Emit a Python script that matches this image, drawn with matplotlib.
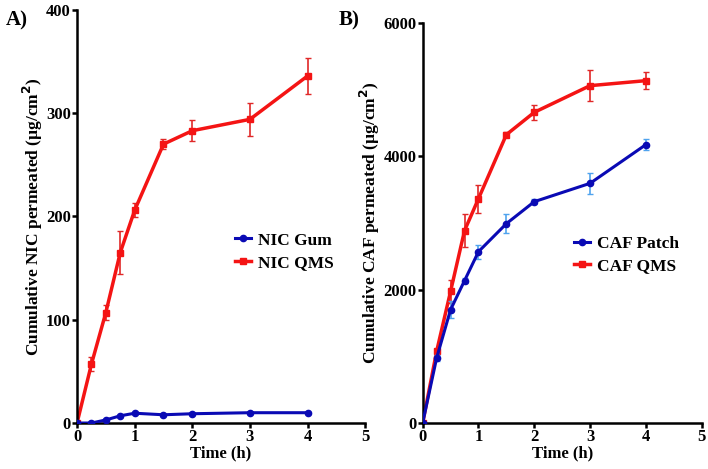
import matplotlib.pyplot as plt
from matplotlib.lines import Line2D

# Time points (h)
time_h = [0, 0.25, 0.5, 0.75, 1, 1.5, 2, 3, 4]

# Panel A - nicotine
nic_gum = [0, 0, 3, 7, 9.5, 8, 9, 10, 10]
nic_gum_err = [0, 0, 0.5, 1, 1, 1, 1, 1, 1]
nic_qms = [0, 57, 107, 165, 206, 270, 283, 294, 336]
nic_qms_err = [0, 7, 7, 21, 7, 5, 10, 16, 17]

# Panel B - caffeine
caf_patch = [0, 975, 1700, 2135, 2570, 2990, 3320, 3595, 4175]
caf_patch_err = [0, 40, 125, 40, 105, 140, 40, 160, 80]
caf_qms = [0, 1075, 1975, 2885, 3365, 4325, 4660, 5060, 5135]
caf_qms_err = [0, 40, 170, 250, 210, 40, 115, 230, 130]

BLUE = '#0a0ab4'
RED = '#f41414'
LIGHTBLUE = '#4fa3ee'
ERRRED = '#e02828'

plt.rcParams['font.family'] = ['Liberation Serif', 'DejaVu Serif']
plt.rcParams['font.weight'] = 'bold'
plt.rcParams['mathtext.default'] = 'bf'

fig = plt.figure(figsize=(7.08, 4.69), dpi=100)
ax1 = fig.add_axes([0.1088, 0.098, 0.407, 0.881])
ax2 = fig.add_axes([0.597, 0.098, 0.394, 0.853])


def style_axis(ax):
    for side in ['top', 'right']:
        ax.spines[side].set_visible(False)
    for side in ['left', 'bottom']:
        ax.spines[side].set_linewidth(1.8)
    ax.tick_params(width=1.8, length=3.5, labelsize=12, pad=1)
    for lab in ax.get_xticklabels() + ax.get_yticklabels():
        lab.set_fontweight('bold')
    ax.set_xlim(0, 5)
    ax.set_xticks([0, 1, 2, 3, 4, 5])
    ax.set_xlabel('Time (h)', fontsize=12, fontweight='bold', labelpad=0)


def legend_handles(labels):
    return [Line2D([], [], color=BLUE, marker='o', markersize=4.5, linewidth=2.2, label=labels[0]),
            Line2D([], [], color=RED, marker='s', markersize=5, linewidth=2.5, label=labels[1])]


# A)
ax1.errorbar(time_h, nic_gum, yerr=nic_gum_err, color=BLUE, ecolor=LIGHTBLUE,
             marker='o', markersize=4.5, linewidth=2.2, capsize=2.5, elinewidth=1.2,
             zorder=3)
ax1.errorbar(time_h, nic_qms, yerr=nic_qms_err, color=RED, ecolor=ERRRED,
             marker='s', markersize=5, linewidth=2.5, capsize=2.5, elinewidth=1.2,
             zorder=2)
ax1.set_ylim(0, 400)
ax1.set_yticks([0, 100, 200, 300, 400])
ax1.set_ylabel('Cumulative NIC permeated (µg/cm$^2$)', fontsize=12.5,
               fontweight='bold', labelpad=1)
style_axis(ax1)
ax1.legend(handles=legend_handles(['NIC Gum', 'NIC QMS']), loc='center left',
           bbox_to_anchor=(0.495, 0.415), frameon=False,
           handlelength=0.9, handletextpad=0.4, labelspacing=0.35,
           prop={'weight': 'bold', 'size': 12.5})

# B)
ax2.errorbar(time_h, caf_patch, yerr=caf_patch_err, color=BLUE, ecolor=LIGHTBLUE,
             marker='o', markersize=4.5, linewidth=2.2, capsize=2.5, elinewidth=1.2,
             zorder=3)
ax2.errorbar(time_h, caf_qms, yerr=caf_qms_err, color=RED, ecolor=ERRRED,
             marker='s', markersize=5, linewidth=2.5, capsize=2.5, elinewidth=1.2,
             zorder=2)
ax2.set_ylim(0, 6000)
ax2.set_yticks([0, 2000, 4000, 6000])
ax2.set_ylabel('Cumulative CAF permeated (µg/cm$^2$)', fontsize=12.5,
               fontweight='bold', labelpad=1)
style_axis(ax2)
ax2.legend(handles=legend_handles(['CAF Patch', 'CAF QMS']), loc='center left',
           bbox_to_anchor=(0.488, 0.42), frameon=False,
           handlelength=0.9, handletextpad=0.4, labelspacing=0.35,
           prop={'weight': 'bold', 'size': 12.5})

fig.text(0.008, 0.945, 'A)', fontsize=15, fontweight='bold')
fig.text(0.478, 0.945, 'B)', fontsize=15, fontweight='bold')

fig.savefig('out.png', dpi=100, facecolor='white')
